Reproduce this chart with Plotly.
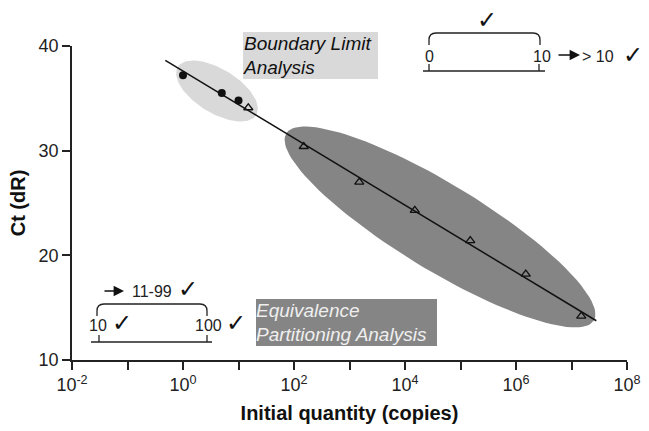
import numpy as np
import plotly.graph_objects as go

# ---- data ----
circle_x = [1, 5, 10]
circle_y = [37.2, 35.5, 34.8]
tri_x = [15, 150, 1500, 15000, 150000, 1500000, 15000000]
tri_y = [34.1, 30.4, 27.0, 24.3, 21.4, 18.2, 14.2]
line_x_ends = [0.48, 2.8e7]
x_tick_vals = [1e-2, 1e-1, 1e0, 1e1, 1e2, 1e3, 1e4, 1e5, 1e6, 1e7, 1e8]
x_tick_text = ["10<sup>-2</sup>", "", "10<sup>0</sup>", "", "10<sup>2</sup>", "",
               "10<sup>4</sup>", "", "10<sup>6</sup>", "", "10<sup>8</sup>"]
y_tick_vals = [10, 20, 30, 40]

# ---- geometry (pixel layout) ----
W, H = 649, 431
L, R, T, B = 72, 22, 46, 71
PW, PH = W - L - R, H - T - B
XR = (-2, 8)
YR = (10, 40)

def px(x):
    return (x - L) / PW

def py(y):
    return (H - B - y) / PH

def pix_to_data(xp, yp):
    lx = XR[0] + (xp - L) / PW * (XR[1] - XR[0])
    yv = YR[0] + (H - B - yp) / PH * (YR[1] - YR[0])
    return 10 ** lx, yv

def ellipse(cx, cy, a, b, ang_deg, n=120):
    t = np.linspace(0, 2 * np.pi, n)
    th = np.radians(ang_deg)
    xs = cx + a * np.cos(t) * np.cos(th) - b * np.sin(t) * np.sin(th)
    ys = cy + a * np.cos(t) * np.sin(th) + b * np.sin(t) * np.cos(th)
    pts = [pix_to_data(x, y) for x, y in zip(xs, ys)]
    return [p[0] for p in pts], [p[1] for p in pts]

fig = go.Figure()

ex, ey = ellipse(217, 91, 46, 22, 31.5)
fig.add_trace(go.Scatter(x=ex, y=ey, fill="toself", fillcolor="#d9d9d9",
                         line=dict(width=0), mode="lines", hoverinfo="skip"))
ex, ey = ellipse(440, 227, 180, 43, 31.3)
fig.add_trace(go.Scatter(x=ex, y=ey, fill="toself", fillcolor="#858585",
                         line=dict(width=0), mode="lines", hoverinfo="skip"))

# regression line
slope, intercept = np.polyfit(np.log10(tri_x), tri_y, 1)
lx = np.log10(line_x_ends)
fig.add_trace(go.Scatter(x=line_x_ends, y=list(intercept + slope * lx), mode="lines",
                         line=dict(color="#111", width=1.5)))

fig.add_trace(go.Scatter(x=circle_x, y=circle_y, mode="markers",
                         marker=dict(symbol="circle", size=8, color="#111")))
fig.add_trace(go.Scatter(x=tri_x, y=tri_y, mode="markers",
                         marker=dict(symbol="triangle-up-open", size=8, color="#111",
                                     line=dict(width=1.3, color="#111"))))

FONT = "Liberation Sans, Arial, sans-serif"
CHECK_FONT = "DejaVu Sans"

annotations = []
shapes = []

def text(x, y, s, size=16, font=FONT, color="#222", **kw):
    annotations.append(dict(x=px(x), y=py(y), xref="paper", yref="paper", text=s,
                            showarrow=False, xanchor="center", yanchor="middle",
                            font=dict(size=size, family=font, color=color), **kw))

def check(x, y):
    text(x, y, "✓", size=24, font=CHECK_FONT, color="#111")

def seg(x0, y0, x1, y1):
    shapes.append(dict(type="line", xref="paper", yref="paper", x0=px(x0), y0=py(y0),
                       x1=px(x1), y1=py(y1), line=dict(color="#222", width=1.3)))

def bracket(x0, x1, ytop, ybot, r=7):
    p = (f"M {px(x0)},{py(ybot)} L {px(x0)},{py(ytop + r)} "
         f"Q {px(x0)},{py(ytop)} {px(x0 + r)},{py(ytop)} "
         f"L {px(x1 - r)},{py(ytop)} Q {px(x1)},{py(ytop)} {px(x1)},{py(ytop + r)} "
         f"L {px(x1)},{py(ybot)}")
    shapes.append(dict(type="path", xref="paper", yref="paper", path=p,
                       line=dict(color="#222", width=1.3)))

def arrow(x0, x1, y):
    annotations.append(dict(x=px(x1), y=py(y), xref="paper", yref="paper",
                            ax=-(x1 - x0), ay=0, axref="pixel", ayref="pixel",
                            text="", showarrow=True, arrowhead=2, arrowsize=1.3,
                            arrowwidth=1.6, arrowcolor="#111"))

# top-right diagram
check(487, 20)
bracket(429, 540, 33, 45)
text(429, 56, "0")
text(542, 56, "10")
seg(423, 71, 545, 71)
seg(429, 64, 429, 71)
seg(539, 64, 539, 71)
arrow(557, 580, 55)
text(598, 56, "&gt; 10")
check(633, 55)

# bottom-left diagram
arrow(103, 124, 291)
text(152, 291, "11-99")
check(188, 289)
bracket(97, 207, 304, 316)
text(98, 325, "10")
check(122, 323)
text(208, 325, "100")
check(236, 323)
seg(91, 342, 212, 342)
seg(99, 335, 99, 342)
seg(207, 335, 207, 342)

# labelled boxes
annotations.append(dict(x=px(243), y=py(32), xref="paper", yref="paper",
                        xanchor="left", yanchor="top", showarrow=False,
                        text="<i>Boundary Limit<br>Analysis</i>", align="left",
                        bgcolor="#d9d9d9", borderpad=0, borderwidth=0,
                        width=135, height=47,
                        font=dict(size=19, family=FONT, color="#111")))
annotations.append(dict(x=px(256), y=py(299), xref="paper", yref="paper",
                        xanchor="left", yanchor="top", showarrow=False,
                        text="<i>Equivalence<br>Partitioning Analysis</i>", align="left",
                        bgcolor="#858585", borderpad=0, borderwidth=0,
                        width=181, height=47,
                        font=dict(size=19, family=FONT, color="#efefef")))

fig.update_layout(
    width=W, height=H,
    margin=dict(l=L, r=R, t=T, b=B, autoexpand=False),
    plot_bgcolor="white", paper_bgcolor="white",
    showlegend=False,
    font=dict(family=FONT, color="#222"),
    annotations=annotations,
    shapes=shapes,
)
fig.update_xaxes(type="log", range=list(XR), tickvals=x_tick_vals, ticktext=x_tick_text,
                 automargin=False,
                 showgrid=False, zeroline=False, showline=True, linecolor="#222",
                 linewidth=1.5, ticks="outside", ticklen=8, tickwidth=1.5, tickcolor="#222",
                 tickfont=dict(size=18, family=FONT, color="#222"),
                 title=dict(text="<b>Initial quantity (copies)</b>",
                            font=dict(size=20, family=FONT, color="#111"), standoff=12))
fig.update_yaxes(range=list(YR), tickvals=y_tick_vals, automargin=False,
                 showgrid=False, zeroline=False, showline=True, linecolor="#222",
                 linewidth=1.5, ticks="outside", ticklen=8, tickwidth=1.5, tickcolor="#222",
                 tickfont=dict(size=18, family=FONT, color="#222"),
                 title=dict(text="<b>Ct (dR)</b>",
                            font=dict(size=20, family=FONT, color="#111"), standoff=8))

fig.write_html("out.html", config={"displayModeBar": False},
               post_script="document.body.style.margin='0';document.body.style.overflow='hidden';")
